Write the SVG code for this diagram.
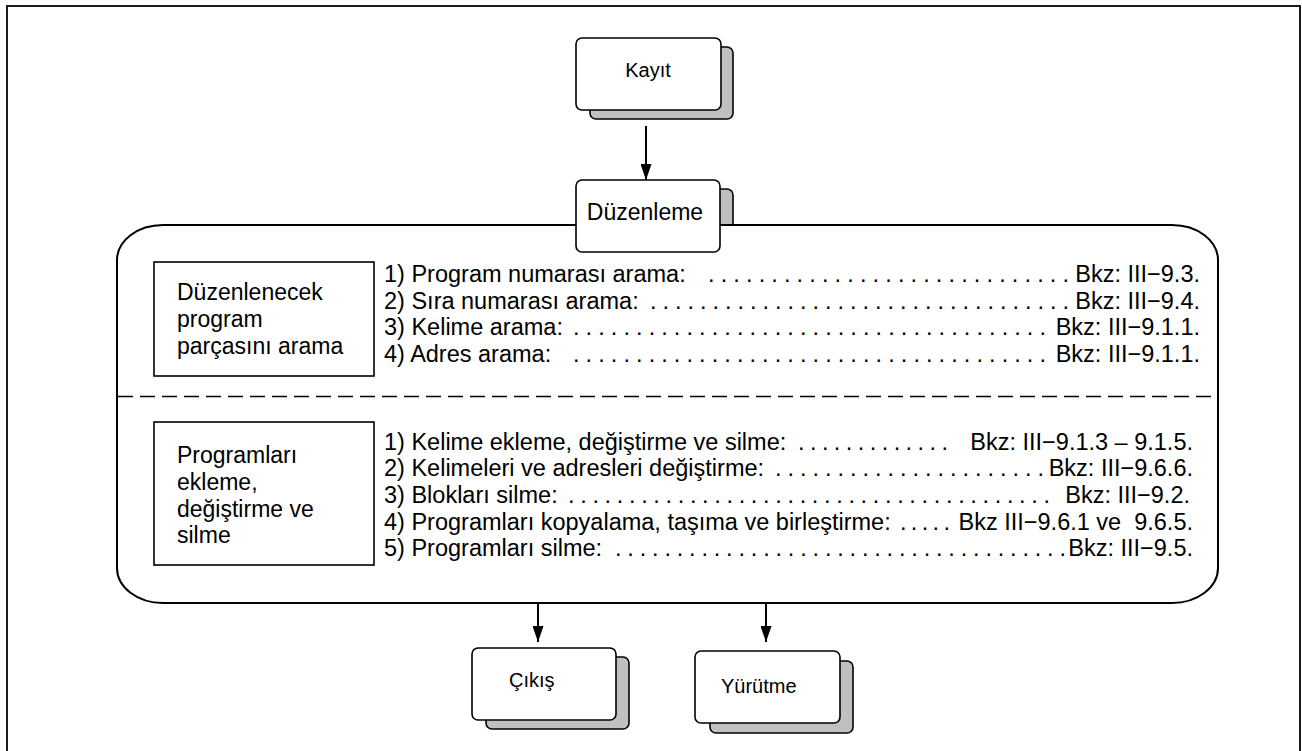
<svg xmlns="http://www.w3.org/2000/svg" width="1302" height="751" viewBox="0 0 1302 751">
  <style>
    text { font-family: "Liberation Sans", Arial, Helvetica, sans-serif; fill: #000; }
    .t20 { font-size: 20px; }
    .t23 { font-size: 23px; }
    .item { font-size: 23.5px; }
    .ref { font-size: 23.5px; text-anchor: end; white-space: pre; }
    .dots { font-size: 23.5px; }
    .front { fill: #fff; stroke: #000; stroke-width: 1.6; }
    .shadow { fill: #c0c0c0; stroke: #000; stroke-width: 1.6; }
    .frame { fill: none; stroke: #1a1a1a; stroke-width: 2; }
    .box { fill: #fff; stroke: #000; stroke-width: 1.6; }
    .wire { fill: none; stroke: #000; stroke-width: 2; }
  </style>
  <defs>
    <marker id="arrow" markerUnits="userSpaceOnUse" markerWidth="16" markerHeight="11" refX="16" refY="5.5" viewBox="0 0 16 11" orient="auto">
      <path d="M0,0 L16,5.5 L0,11 Z" fill="#000"/>
    </marker>
  </defs>

  <rect width="1302" height="751" fill="#fff"/>
  <!-- page frame -->
  <rect class="frame" x="7" y="6" width="1293" height="800"/>

  <!-- editing panel -->
  <g id="edit-panel">
    <!-- tab of the stacked Düzenleme card above the panel edge -->
    <rect class="shadow" x="590" y="189" width="143" height="72" rx="6"/>
    <rect x="117" y="225" width="1101" height="378" rx="46" ry="35" fill="#fff" stroke="#000" stroke-width="2"/>
    <line x1="118" y1="396.5" x2="1217" y2="396.5" stroke="#000" stroke-width="1.3" stroke-dasharray="15 7"/>

    <g id="search-box">
      <rect class="box" x="154" y="262" width="220" height="114"/>
      <text class="t23" x="177" y="300">Düzenlenecek</text>
      <text class="t23" x="177" y="327">program</text>
      <text class="t23" x="177" y="354">parçasını arama</text>
    </g>

    <g id="search-list">
      <text class="item" x="384" y="282">1) Program numarası arama:</text>
      <text class="dots" x="708" y="282" textLength="361" lengthAdjust="spacing">.............................</text>
      <text class="ref" x="1200" y="282">Bkz: III−9.3.</text>

      <text class="item" x="384" y="308.5">2) Sıra numarası arama:</text>
      <text class="dots" x="650" y="308.5" textLength="419" lengthAdjust="spacing">..................................</text>
      <text class="ref" x="1200" y="308.5">Bkz: III−9.4.</text>

      <text class="item" x="384" y="335">3) Kelime arama:</text>
      <text class="dots" x="573" y="335" textLength="473" lengthAdjust="spacing">......................................</text>
      <text class="ref" x="1200" y="335">Bkz: III−9.1.1.</text>

      <text class="item" x="384" y="361.5">4) Adres arama:</text>
      <text class="dots" x="573" y="361.5" textLength="473" lengthAdjust="spacing">......................................</text>
      <text class="ref" x="1200" y="361.5">Bkz: III−9.1.1.</text>
    </g>

    <g id="modify-box">
      <rect class="box" x="154" y="422" width="220" height="143"/>
      <text class="t23" x="177" y="463">Programları</text>
      <text class="t23" x="177" y="490">ekleme,</text>
      <text class="t23" x="177" y="516.5">değiştirme ve</text>
      <text class="t23" x="177" y="543">silme</text>
    </g>

    <g id="modify-list">
      <text class="item" x="384" y="449.5">1) Kelime ekleme, değiştirme ve silme:</text>
      <text class="dots" x="798" y="449.5" textLength="150" lengthAdjust="spacing">.............</text>
      <text class="ref" x="1193" y="449.5">Bkz: III−9.1.3 – 9.1.5.</text>

      <text class="item" x="384" y="476">2) Kelimeleri ve adresleri değiştirme:</text>
      <text class="dots" x="775" y="476" textLength="269" lengthAdjust="spacing">......................</text>
      <text class="ref" x="1193" y="476">Bkz: III−9.6.6.</text>

      <text class="item" x="384" y="503">3) Blokları silme:</text>
      <text class="dots" x="568" y="503" textLength="482" lengthAdjust="spacing">........................................</text>
      <text class="ref" x="1190" y="503">Bkz: III−9.2.</text>

      <text class="item" x="384" y="529.5">4) Programları kopyalama, taşıma ve birleştirme:</text>
      <text class="dots" x="900" y="529.5" textLength="50" lengthAdjust="spacing">.....</text>
      <text class="ref" x="1193" y="529.5">Bkz III−9.6.1 ve  9.6.5.</text>

      <text class="item" x="384" y="556">5) Programları silme:</text>
      <text class="dots" x="615" y="556" textLength="451" lengthAdjust="spacing">.....................................</text>
      <text class="ref" x="1193" y="556">Bkz: III−9.5.</text>
    </g>
  </g>

  <g id="kayit">
    <rect class="shadow" x="590" y="47" width="143" height="72" rx="6"/>
    <rect class="front" x="576" y="38" width="145" height="72" rx="6"/>
    <text class="t20" x="648" y="77" text-anchor="middle">Kayıt</text>
  </g>

  <g id="duzenleme">
    <rect class="front" x="576" y="180" width="144" height="72" rx="6"/>
    <text class="t23" x="645" y="220" text-anchor="middle">Düzenleme</text>
  </g>

  <g id="cikis">
    <rect class="shadow" x="486" y="657" width="143" height="72" rx="6"/>
    <rect class="front" x="472" y="648" width="144" height="72" rx="6"/>
    <text class="t20" x="509" y="687">Çıkış</text>
  </g>

  <g id="yurutme">
    <rect class="shadow" x="710" y="661" width="143" height="72" rx="6"/>
    <rect class="front" x="695" y="651" width="145" height="72" rx="6"/>
    <text class="t20" x="721" y="693">Yürütme</text>
  </g>

  <g id="connectors">
    <line class="wire" x1="646" y1="126" x2="646" y2="180" marker-end="url(#arrow)"/>
    <line class="wire" x1="538" y1="603" x2="538" y2="642" marker-end="url(#arrow)"/>
    <line class="wire" x1="766" y1="603" x2="766" y2="642" marker-end="url(#arrow)"/>
  </g>
</svg>
